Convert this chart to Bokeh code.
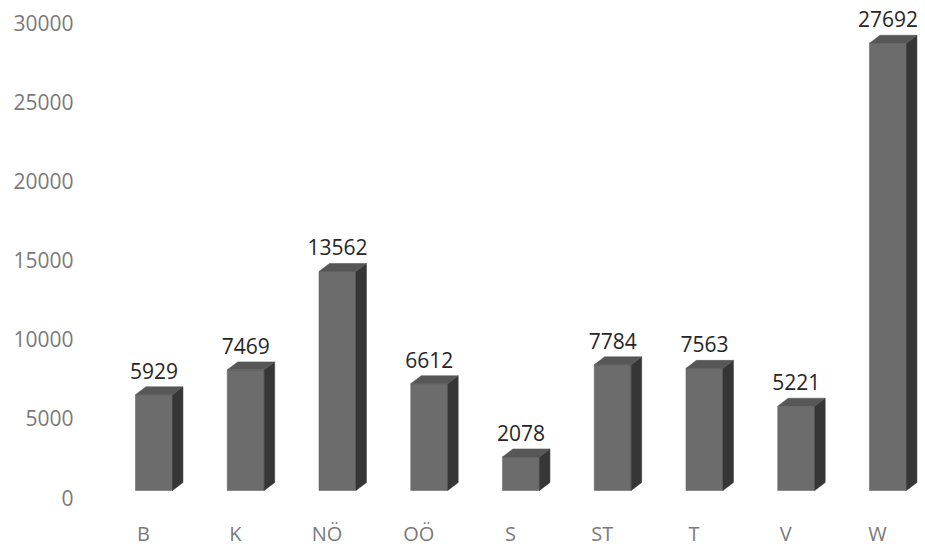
from bokeh.plotting import figure
from bokeh.models import Range1d, FixedTicker, ColumnDataSource
from bokeh.embed import file_html
from bokeh.resources import INLINE
from bokeh.core.properties import value

categories = ["B", "K", "NÖ", "OÖ", "S", "ST", "T", "V", "W"]
counts = [5929, 7469, 13562, 6612, 2078, 7784, 7563, 5221, 27692]
y_ticks = [0, 5000, 10000, 15000, 20000, 25000, 30000]

p = figure(width=925, height=550, output_backend="svg", toolbar_location=None,
           x_range=Range1d(-0.578, 8.523), y_range=Range1d(-505, 30758),
           min_border_left=90, min_border_right=0, min_border_top=10,
           min_border_bottom=45)
p.extra_y_ranges = {"bars": Range1d(-929, 29721)}
p.outline_line_color = None
p.xgrid.visible = False
p.ygrid.visible = False

# y axis
p.yaxis.ticker = FixedTicker(ticks=y_ticks)
p.yaxis.axis_line_color = None
p.yaxis.major_tick_line_color = None
p.yaxis.major_tick_out = 0
p.yaxis.major_tick_in = 0
p.yaxis.minor_tick_line_color = None
p.yaxis.minor_tick_out = 0
p.yaxis.major_label_standoff = 17
p.yaxis.major_label_text_font = "Open Sans"
p.yaxis.major_label_text_font_size = "21px"
p.yaxis.major_label_text_color = "#7a7a7a"

# x axis
p.xaxis.ticker = FixedTicker(ticks=list(range(len(categories))))
p.xaxis.major_label_overrides = {i: c for i, c in enumerate(categories)}
p.xaxis.axis_line_color = None
p.xaxis.major_tick_line_color = None
p.xaxis.major_tick_out = 0
p.xaxis.major_tick_in = 0
p.xaxis.minor_tick_line_color = None
p.xaxis.minor_tick_out = 0
p.xaxis.major_label_standoff = 14
p.xaxis.major_label_text_font = "Open Sans"
p.xaxis.major_label_text_font_size = "20px"
p.xaxis.major_label_text_color = "#7a7a7a"

# 3D-look bars built from the values
shift = 0.114   # front face shifted right of the category label
hw = 0.2016     # half width of front face
dx = 0.114      # depth, x
dy = 495        # depth, y (in bar-range units)

front_xs, front_ys, side_xs, side_ys, top_xs, top_ys = [], [], [], [], [], []
label_x = []
for i, v in enumerate(counts):
    cx = i + shift
    l, r = cx - hw, cx + hw
    front_xs.append([l, r, r, l])
    front_ys.append([0, 0, v, v])
    side_xs.append([r, r + dx, r + dx, r])
    side_ys.append([0, dy, v + dy, v])
    top_xs.append([l, r, r + dx, l + dx])
    top_ys.append([v, v, v + dy, v + dy])
    label_x.append(cx)

p.patches(front_xs, front_ys, y_range_name="bars", fill_color="#6c6c6c",
          line_color="#5e5e5e", line_width=0.5)
p.patches(side_xs, side_ys, y_range_name="bars", fill_color="#363636",
          line_color="#303030", line_width=0.5)
p.patches(top_xs, top_ys, y_range_name="bars", fill_color="#575757",
          line_color="#505050", line_width=0.5)

src = ColumnDataSource(dict(x=label_x, y=counts, t=[str(c) for c in counts]))
p.text(x="x", y="y", text="t", source=src, y_range_name="bars", y_offset=-24,
       text_align="center", text_baseline="middle",
       text_font=value("Open Sans"), text_font_size="21px", text_color="#262626")

open("out.html", "w").write(file_html(p, INLINE))
